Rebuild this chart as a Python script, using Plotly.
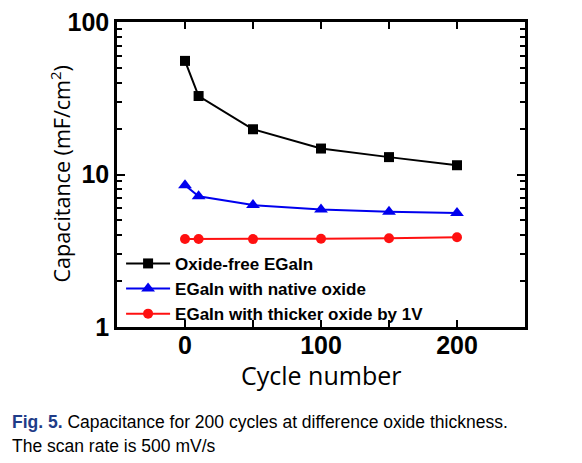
import plotly.graph_objects as go

cycles = [0, 10, 50, 100, 150, 200]
oxide_free = [55.6, 32.7, 19.8, 14.8, 13.0, 11.5]
native_oxide = [8.5, 7.2, 6.3, 5.9, 5.7, 5.6]
thick_oxide = [3.78, 3.78, 3.77, 3.79, 3.82, 3.88]

series_names = ["Oxide-free EGaIn", "EGaIn with native oxide", "EGaIn with thicker oxide by 1V"]
x_tickvals = [0, 100, 200]
x_ticktext = ["0", "100", "200"]
x_minor = [50, 150]
y_tickvals = [1, 10, 100]
y_ticktext = ["1", "10", "100"]
y_minor = [2, 3, 4, 5, 6, 7, 8, 9, 20, 30, 40, 50, 60, 70, 80, 90]

# page has an 8px body margin; plot area targeted at page px (117..525, 22..327)
W, H = 566, 447
L, R, T, B = 109, 49, 14, 128
pw, ph = W - L - R, H - T - B

fig = go.Figure()
fig.add_trace(go.Scatter(x=cycles, y=oxide_free, name=series_names[0], mode="lines+markers",
                         line=dict(color="black", width=2),
                         marker=dict(symbol="square", size=10, color="black")))
fig.add_trace(go.Scatter(x=cycles, y=native_oxide, name=series_names[1], mode="lines+markers",
                         line=dict(color="#0000ee", width=2),
                         marker=dict(symbol="triangle-up", size=12, color="#0000ee")))
fig.add_trace(go.Scatter(x=cycles, y=thick_oxide, name=series_names[2], mode="lines+markers",
                         line=dict(color="#ff1010", width=2),
                         marker=dict(symbol="circle", size=10, color="#ff1010")))

fig.update_layout(
    width=W, height=H,
    margin=dict(l=L, r=R, t=T, b=B),
    plot_bgcolor="white", paper_bgcolor="white",
    showlegend=True,
    legend=dict(x=0.01, y=-0.016, xanchor="left", yanchor="bottom",
                bgcolor="rgba(0,0,0,0)", itemwidth=44, tracegroupgap=0,
                font=dict(family="Liberation Sans", size=17, color="black", weight="bold")),
    xaxis=dict(range=[-50, 250], tickvals=x_tickvals, ticktext=x_ticktext,
               ticks="inside", ticklen=7, tickwidth=2, tickcolor="black",
               minor=dict(tickvals=x_minor, ticks="inside", ticklen=7, tickwidth=2, tickcolor="black"),
               showline=True, linewidth=2.5, linecolor="black", mirror="allticks",
               showgrid=False, zeroline=False, automargin=False, ticklabelstandoff=-6,
               ticklabeloverflow="allow",
               tickfont=dict(family="Liberation Sans", size=25, color="black", weight="bold")),
    yaxis=dict(type="log", range=[0, 2], tickvals=y_tickvals, ticktext=y_ticktext,
               ticks="inside", ticklen=8, tickwidth=2, tickcolor="black",
               minor=dict(tickvals=y_minor, ticks="inside", ticklen=5, tickwidth=2, tickcolor="black"),
               showline=True, linewidth=2.5, linecolor="black", mirror="allticks",
               showgrid=False, zeroline=False, automargin=False, ticklabeloverflow="allow",
               tickfont=dict(family="Liberation Sans", size=25, color="black", weight="bold")),
)

# axis titles
fig.add_annotation(xref="paper", yref="paper", x=0.5, y=-48 / ph, xanchor="center", yanchor="middle",
                   showarrow=False, text="Cycle number",
                   font=dict(family="Open Sans", size=25, color="black"))
fig.add_annotation(xref="paper", yref="paper", x=-57 / pw, y=0.5, xanchor="center", yanchor="middle",
                   showarrow=False, textangle=-90, text="Capacitance (mF/cm<sup>2</sup>)",
                   font=dict(family="Open Sans", size=21.5, color="black"))

# caption
fig.add_annotation(xref="paper", yref="paper", x=-107 / pw, y=-95 / ph, xanchor="left", yanchor="middle",
                   showarrow=False, align="left",
                   text="<b><span style='color:#1f3c88'>Fig. 5.</span></b> Capacitance for 200 cycles at difference oxide thickness.",
                   font=dict(family="Liberation Sans", size=17.5, color="black"))
fig.add_annotation(xref="paper", yref="paper", x=-107 / pw, y=-119 / ph, xanchor="left", yanchor="middle",
                   showarrow=False, align="left",
                   text="The scan rate is 500 mV/s",
                   font=dict(family="Liberation Sans", size=17.5, color="black"))

fig.write_html("out.html")
